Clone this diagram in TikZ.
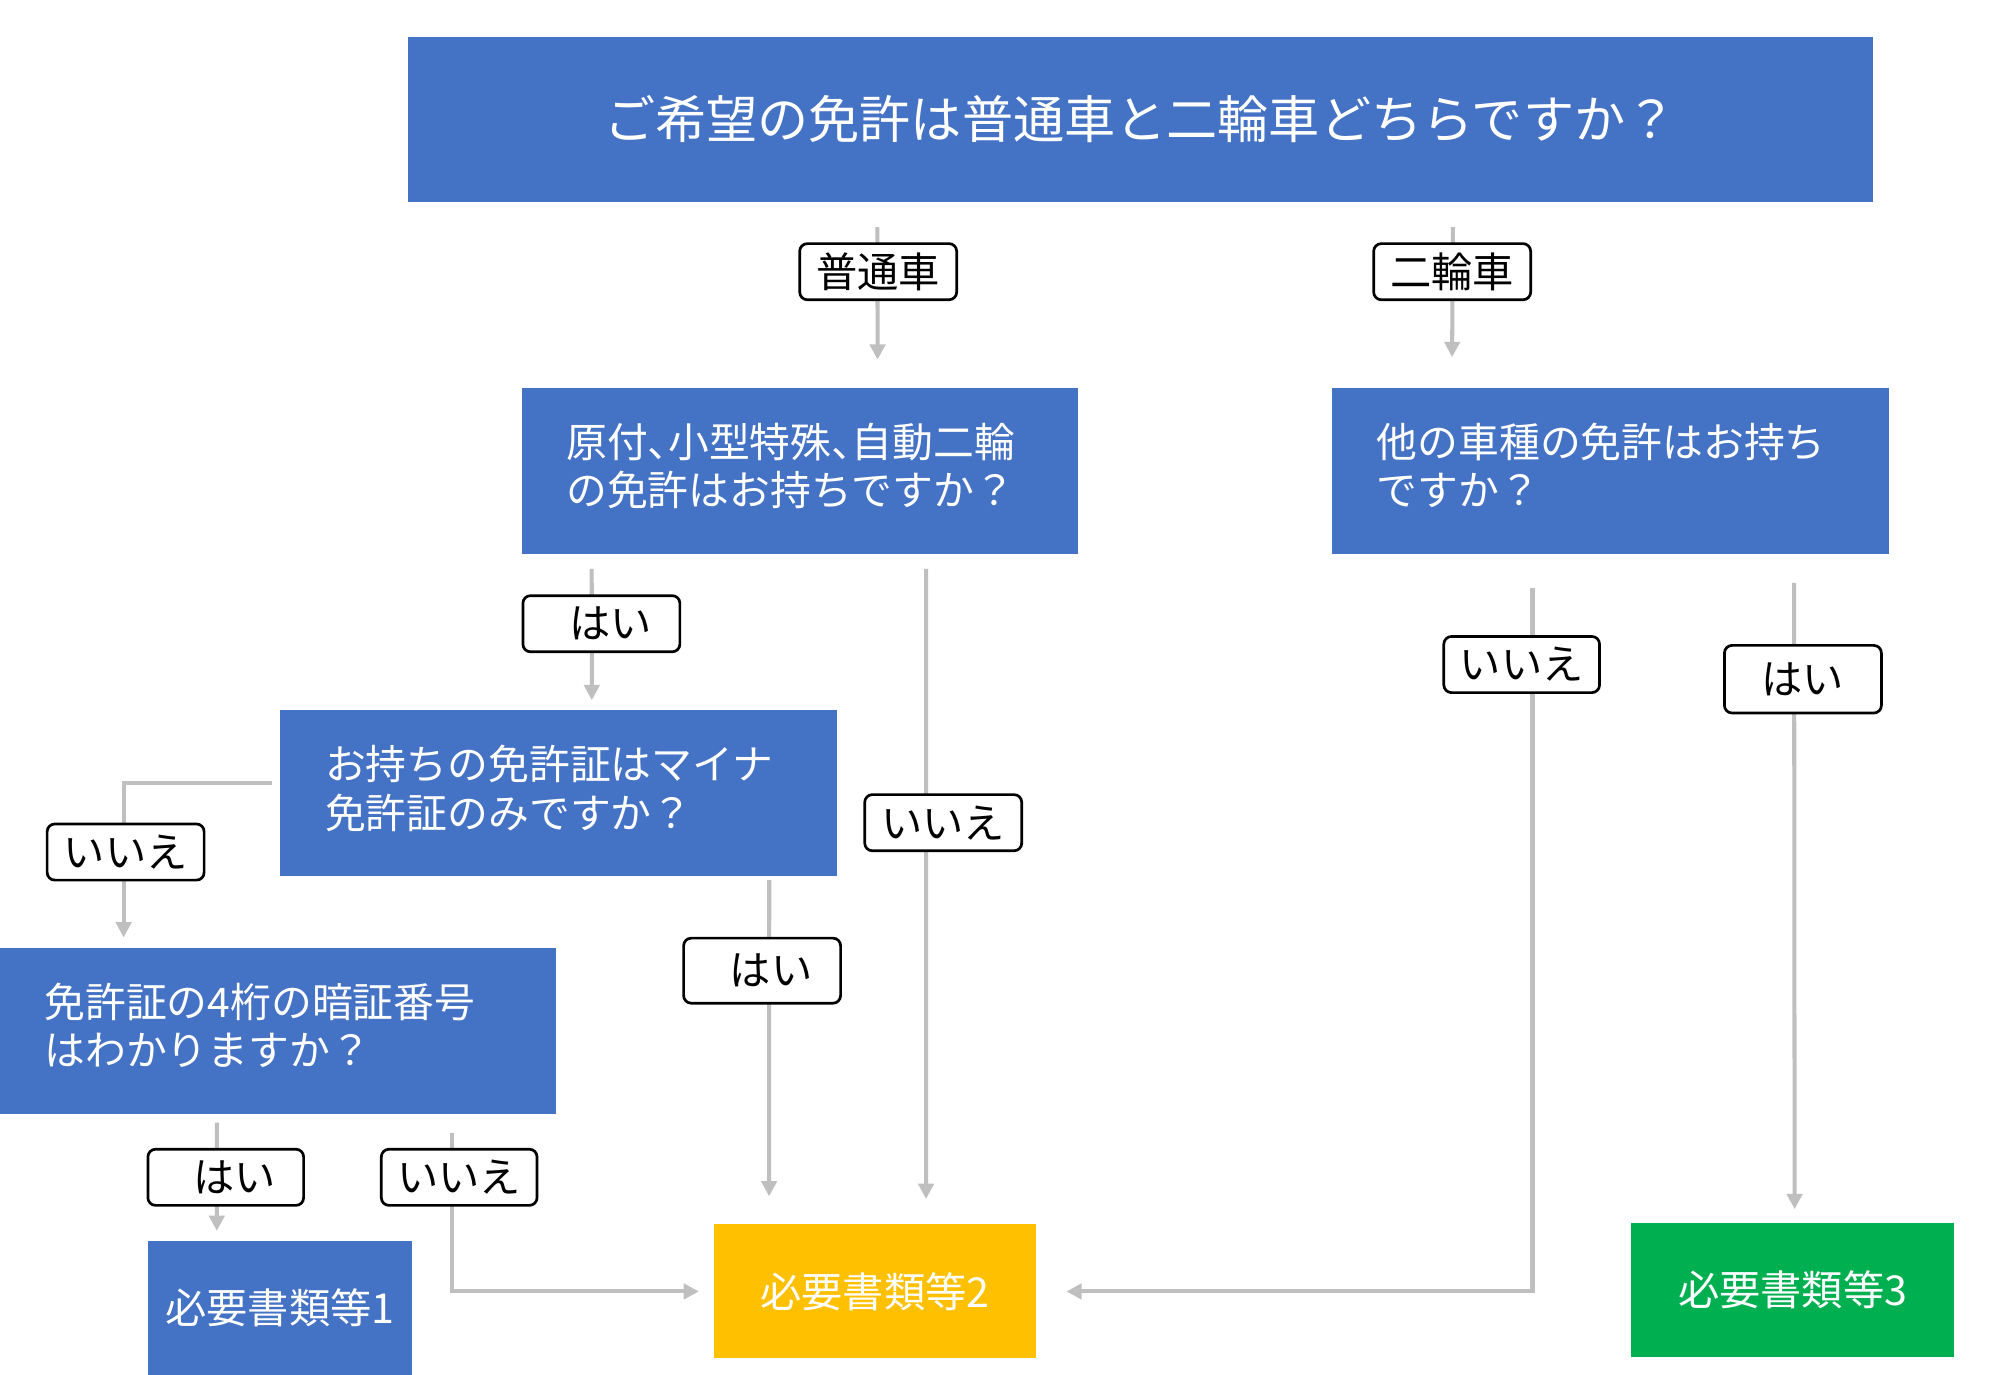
\documentclass[tikz,border=0pt]{standalone}
\usepackage{fontspec}
\setmainfont{Noto Sans CJK JP}
\newfontfamily\jpp[RawFeature=+palt]{Noto Sans CJK JP}
\usetikzlibrary{arrows.meta}
\definecolor{qblue}{HTML}{4472C4}
\definecolor{dyellow}{HTML}{FFC000}
\definecolor{dgreen}{HTML}{00B050}
\definecolor{cgray}{HTML}{BFBFBF}
\begin{document}
\begin{tikzpicture}[x=0.01cm,y=-0.01cm,
  qbox/.style={fill=qblue,text=white,inner sep=0pt,outer sep=0pt,
    font=\fontsize{9.1pt}{10.8pt}\selectfont},
  qleft/.style={qbox,minimum width=4.36cm,minimum height=1.30cm,
    text width=3.66cm,inner xsep=0.35cm,align=flush left,text depth=0.48cm},
  dbox/.style={text=white,inner sep=0pt,outer sep=0pt,
    minimum height=1.05cm,font=\fontsize{9.2pt}{11pt}\selectfont},
  lab/.style={draw=black,fill=white,line width=0.6pt,rounded corners=0.06cm,
    minimum width=1.23cm,minimum height=0.44cm,inner sep=0pt,
    font=\fontsize{9.2pt}{10pt}\selectfont},
  conn/.style={draw=cgray,line width=0.9pt,
    -{Triangle[length=3.4pt,width=3.4pt]}}]
\useasboundingbox[fill=white] (0,0) rectangle (1568,1078);

% question boxes
\node[qbox,minimum width=11.48cm,minimum height=1.29cm,
  font=\fontsize{11.4pt}{13pt}\selectfont] (q1) at (894,93.5)
  {ご希望の免許は普通車と二輪車どちらですか？};
\node[qleft] (q2) at (627,369)
  {原付{\jpp 、}小型特殊{\jpp 、}自動二輪\\の免許はお持ちですか？};
\node[qleft,minimum width=4.35cm] (q3) at (1262.5,369)
  {他の車種の免許はお持ち\\ですか？};
\node[qleft] (q4) at (438,622)
  {お持ちの免許証はマイナ\\免許証のみですか？};
\node[qleft] (q5) at (218,808)
  {免許証の4桁の暗証番号\\はわかりますか？};

% result boxes
\node[dbox,fill=qblue,minimum width=2.07cm] (d1) at (219.5,1025.5) {必要書類等1};
\node[dbox,fill=dyellow,minimum width=2.52cm] (d2) at (686,1012.5) {必要書類等2};
\node[dbox,fill=dgreen,minimum width=2.53cm] (d3) at (1405.5,1011.5) {必要書類等3};

% connectors
\draw[conn] ([xshift=3.68cm,yshift=-0.20cm]q1.south west) -- ([xshift=2.79cm,yshift=0.22cm]q2.north west);
\draw[conn] ([xshift=8.19cm,yshift=-0.20cm]q1.south west) -- ([xshift=0.94cm,yshift=0.24cm]q3.north west);
\draw[conn] ([xshift=0.55cm,yshift=-0.12cm]q2.south west) -- ([xshift=2.44cm,yshift=0.08cm]q4.north west);
\draw[conn] ([xshift=3.17cm,yshift=-0.12cm]q2.south west) -- ([xshift=1.66cm,yshift=0.20cm]d2.north west);
\draw[conn] ([xshift=-0.07cm,yshift=0.08cm]q4.west) -| ([xshift=0.97cm,yshift=0.08cm]q5.north west);
\draw[conn] ([xshift=3.83cm,yshift=-0.03cm]q4.south west) -- ([xshift=0.43cm,yshift=0.22cm]d2.north west);
\draw[conn] ([xshift=1.70cm,yshift=-0.07cm]q5.south west) -- ([xshift=0.54cm,yshift=0.08cm]d1.north west);
\draw[conn] ([xshift=3.54cm,yshift=-0.15cm]q5.south west) |- ([xshift=-0.12cm]d2.west);
\draw[conn] ([xshift=3.62cm,yshift=-0.23cm]q3.south west) -- ([xshift=1.28cm,yshift=0.11cm]d3.north west);
\draw[conn] ([xshift=1.57cm,yshift=-0.27cm]q3.south west) |- ([xshift=0.24cm]d2.east);

% labels
\node[lab] (l1) at (688.5,213) {普通車};
\node[lab] (l2) at (1138.5,213) {二輪車};
\node[lab] (l3) at (471.5,489) {\hspace{0.14cm}はい};
\node[lab] (l4) at (739.5,645) {いいえ};
\node[lab] (l5) at (98.5,668) {いいえ};
\node[lab,minimum height=0.51cm] (l6) at (597.5,761) {\hspace{0.14cm}はい};
\node[lab,minimum width=1.22cm] (l7) at (177,923) {\hspace{0.14cm}はい};
\node[lab,minimum width=1.22cm] (l8) at (360,923) {いいえ};
\node[lab,minimum width=1.22cm] (l9) at (1193,521) {いいえ};
\node[lab,minimum height=0.53cm] (l10) at (1413.5,532.5) {はい};
\end{tikzpicture}
\end{document}
